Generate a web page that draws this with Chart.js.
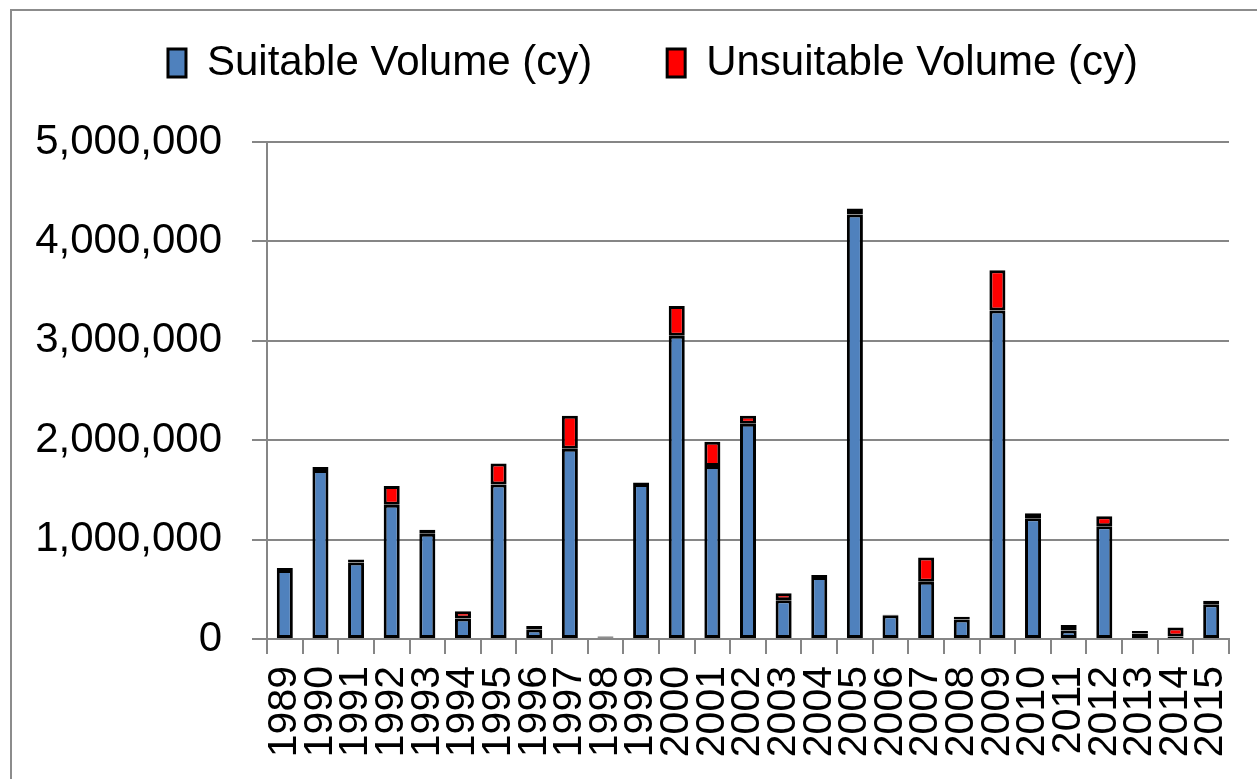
<!DOCTYPE html>
<html>
<head>
<meta charset="utf-8">
<script src="https://cdn.jsdelivr.net/npm/chart.js@4/dist/chart.umd.min.js"></script>
<style>
  html, body { margin: 0; padding: 0; background: #fff; overflow: hidden; }
  #frame {
    position: absolute; left: 10px; top: 9px; width: 1400px; height: 900px;
    border-left: 2px solid #8c8c8c; border-top: 2px solid #8c8c8c;
  }
  #wrap { position: absolute; left: 0; top: -33px; width: 1257px; height: 812px; }
</style>
</head>
<body>
<div id="frame"></div>
<div id="wrap"><canvas id="volChart" width="1257" height="812"></canvas></div>
<script>
const years = ['1989', '1990', '1991', '1992', '1993', '1994', '1995', '1996', '1997', '1998',
  '1999', '2000', '2001', '2002', '2003', '2004', '2005', '2006', '2007', '2008',
  '2009', '2010', '2011', '2012', '2013', '2014', '2015'];

const suitable = [695000, 1700000, 770000, 1350000, 1060000, 205000, 1555000, 95000, 1915000, 15000,
  1560000, 3050000, 1740000, 2165000, 390000, 625000, 4270000, 240000, 575000, 195000,
  3305000, 1215000, 85000, 1135000, 55000, 25000, 350000];

const unsuitable = [20000, 30000, 30000, 190000, 40000, 75000, 210000, 35000, 330000, 10000,
  15000, 300000, 245000, 80000, 70000, 20000, 60000, 5000, 245000, 30000,
  405000, 50000, 55000, 100000, 25000, 90000, 35000];

const yTicks = [0, 1000000, 2000000, 3000000, 4000000, 5000000];

const font = 'Liberation Sans, Arial, sans-serif';
const gridColor = '#868686';

// legend needs more room below it than Chart.js gives, and y labels are wider than the axis box
const layoutTweaks = {
  id: 'layoutTweaks',
  beforeLayout(chart) {
    const lg = chart.legend;
    if (lg && !lg._patched) {
      const fit = lg.fit;
      lg.fit = function () { fit.call(this); this.height = 175; };
      lg._patched = true;
    }
  },
  afterLayout(chart) {
    chart.scales.y.left = 0;
  }
};

new Chart(document.getElementById('volChart'), {
  type: 'bar',
  data: {
    labels: years,
    datasets: [{
      label: 'Suitable Volume (cy)',
      data: suitable,
      backgroundColor: '#4f81bd',
      borderColor: '#000',
      borderWidth: 3,
      borderSkipped: false
    }, {
      label: 'Unsuitable Volume (cy)',
      data: unsuitable,
      backgroundColor: '#ff0000',
      borderColor: '#000',
      borderWidth: 3,
      borderSkipped: false
    }]
  },
  plugins: [layoutTweaks],
  options: {
    responsive: false,
    animation: false,
    events: [],
    layout: { padding: { left: 77, right: 28, top: 0, bottom: 0 } },
    datasets: { bar: { barPercentage: 0.45, categoryPercentage: 1 } },
    plugins: {
      tooltip: { enabled: false },
      legend: {
        position: 'top',
        labels: {
          color: '#000',
          font: { family: font, size: 42 },
          boxWidth: 18,
          boxHeight: 28,
          padding: 75
        }
      }
    },
    scales: {
      x: {
        stacked: true,
        afterFit: scale => {
          scale.height = 140;
          scale.paddingLeft = 0;
          scale.paddingRight = 0;
        },
        grid: {
          drawOnChartArea: false,
          drawTicks: true,
          tickLength: 15,
          color: gridColor,
          lineWidth: 2
        },
        border: { color: gridColor, width: 2 },
        ticks: {
          color: '#000',
          font: { family: font, size: 41 },
          autoSkip: false,
          minRotation: 90,
          maxRotation: 90,
          padding: 12
        }
      },
      y: {
        stacked: true,
        min: 0,
        max: 5000000,
        afterFit: scale => { scale.width = 190; },
        afterBuildTicks: scale => { scale.ticks = yTicks.map(v => ({ value: v })); },
        grid: {
          color: gridColor,
          lineWidth: 2,
          tickLength: 15
        },
        border: { color: gridColor, width: 2 },
        ticks: {
          color: '#000',
          font: { family: font, size: 42 },
          padding: 30,
          callback: v => v.toLocaleString('en-US')
        }
      }
    }
  }
});
</script>
</body>
</html>
